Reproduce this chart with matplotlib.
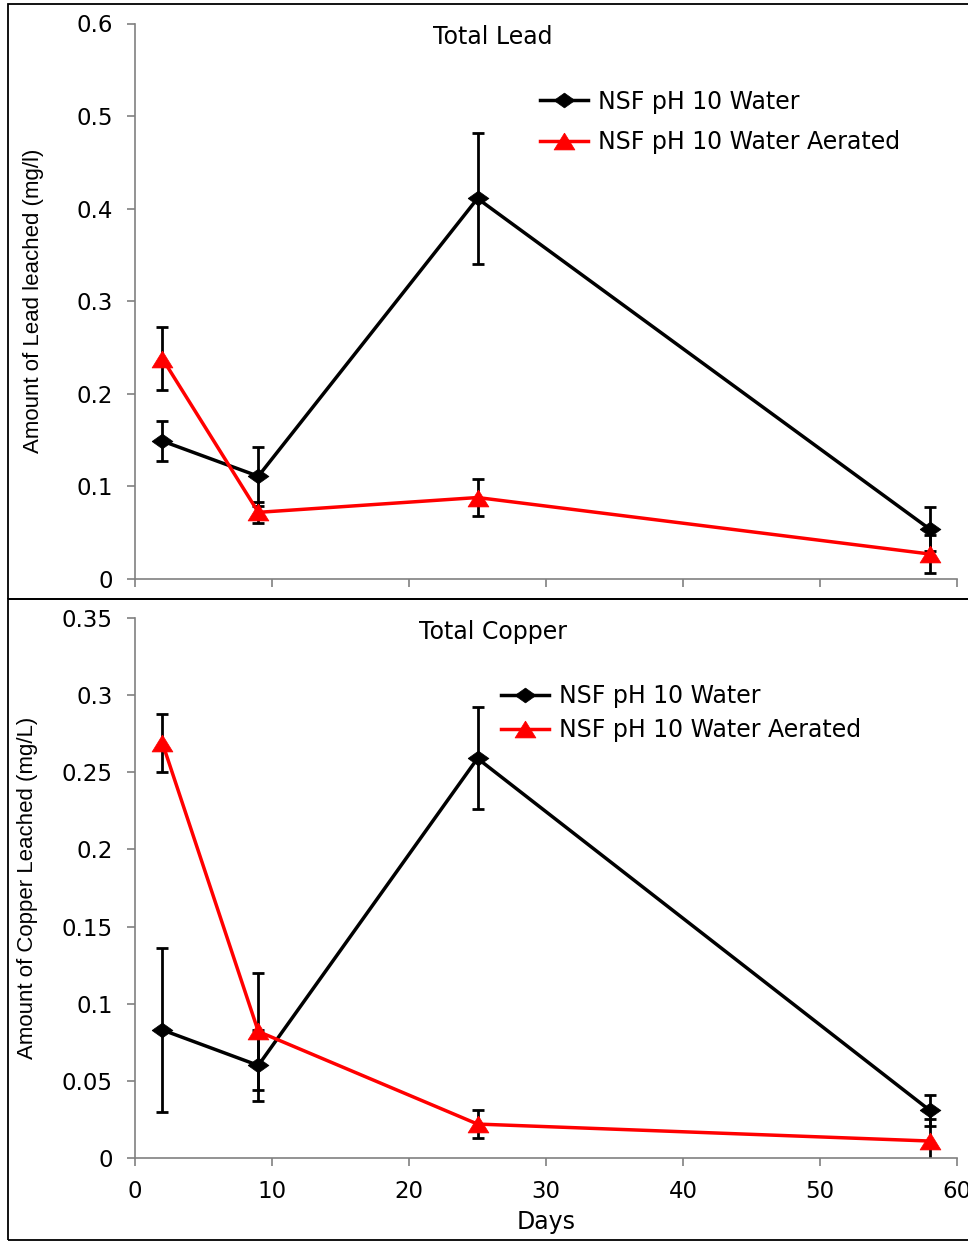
import matplotlib
matplotlib.use("Agg")
import matplotlib.pyplot as plt
from matplotlib.patches import Rectangle

plt.rcParams['font.family'] = ['DejaVu Sans']

days = [2, 9, 25, 58]
series_labels = ["NSF pH 10 Water", "NSF pH 10 Water Aerated"]

lead_water = [0.149, 0.111, 0.411, 0.054]
lead_water_err = [0.022, 0.032, 0.071, 0.024]
lead_aerated = [0.238, 0.072, 0.088, 0.027]
lead_aerated_err = [0.034, 0.011, 0.020, 0.021]

copper_water = [0.083, 0.060, 0.259, 0.031]
copper_water_err = [0.053, 0.023, 0.033, 0.010]
copper_aerated = [0.269, 0.082, 0.022, 0.011]
copper_aerated_err = [0.019, 0.038, 0.009, 0.014]

x_ticks = [0, 10, 20, 30, 40, 50, 60]
lead_yticks = [0, 0.1, 0.2, 0.3, 0.4, 0.5, 0.6]
lead_yticklabels = ["0", "0.1", "0.2", "0.3", "0.4", "0.5", "0.6"]
copper_yticks = [0, 0.05, 0.1, 0.15, 0.2, 0.25, 0.3, 0.35]
copper_yticklabels = ["0", "0.05", "0.1", "0.15", "0.2", "0.25", "0.3", "0.35"]

W, H = 968, 1242
fig = plt.figure(figsize=(W / 100, H / 100), dpi=100)

# panel frames
fig.add_artist(Rectangle((8 / W, 1 - 599 / H), 1.0, (599 - 4) / H, transform=fig.transFigure,
                         fill=False, edgecolor='black', linewidth=1.3))
fig.add_artist(Rectangle((8 / W, 1 - 1240 / H), 1.0, (1240 - 599) / H, transform=fig.transFigure,
                         fill=False, edgecolor='black', linewidth=1.3))

ax1 = fig.add_axes([135 / W, 1 - 579 / H, 822 / W, (579 - 23.5) / H])
ax2 = fig.add_axes([135 / W, 1 - 1158 / H, 822 / W, (1158 - 618) / H])

spine_color = '#808080'
diamond = [(-1, 0), (0, 0.71), (1, 0), (0, -0.71), (-1, 0)]
triangle = [(0, 0.81), (1, -0.81), (-1, -0.81), (0, 0.81)]
TXT = 17


def draw(ax, yw, ew, ya, ea, ylim, yticks, yticklabels, title, ylabel, ylabel_x,
         leg_anchor, leg_spacing, show_xlabels):
    ax.errorbar(days, yw, yerr=ew, fmt='none', ecolor='black', elinewidth=2, capsize=4.6, capthick=2, zorder=2)
    ax.errorbar(days, ya, yerr=ea, fmt='none', ecolor='black', elinewidth=2, capsize=4.6, capthick=2, zorder=2)
    ax.plot(days, yw, color='black', linewidth=2.5, marker=diamond, markersize=15,
            markerfacecolor='black', markeredgecolor='black', markeredgewidth=0.5,
            label=series_labels[0], zorder=3)
    ax.plot(days, ya, color='#ff0000', linewidth=2.5, marker=triangle, markersize=15,
            markerfacecolor='#ff0000', markeredgecolor='#ff0000', markeredgewidth=0.5,
            label=series_labels[1], zorder=4)
    ax.set_xlim(0, 60)
    ax.set_ylim(*ylim)
    ax.set_xticks(x_ticks)
    ax.set_yticks(yticks)
    ax.set_yticklabels(yticklabels)
    if not show_xlabels:
        ax.set_xticklabels([])
    for s in ['top', 'right']:
        ax.spines[s].set_visible(False)
    for s in ['left', 'bottom']:
        ax.spines[s].set_color(spine_color)
        ax.spines[s].set_linewidth(1.2)
    ax.tick_params(axis='both', direction='out', length=6, width=1.2, color=spine_color,
                   labelsize=16.5)
    ax.tick_params(axis='y', pad=10)
    ax.tick_params(axis='x', pad=10)
    ax.patch.set_alpha(0)
    ax.text(0.435, 0.975, title, transform=ax.transAxes, ha='center', va='center', fontsize=TXT)
    ax.set_ylabel(ylabel, fontsize=16, family=['Liberation Sans', 'DejaVu Sans'])
    ax.yaxis.set_label_coords(ylabel_x, 0.5)
    ax.legend(loc='upper left', bbox_to_anchor=leg_anchor, frameon=False, fontsize=TXT,
              handlelength=2.05, handletextpad=0.4, labelspacing=leg_spacing, borderpad=0,
              borderaxespad=0)


draw(ax1, lead_water, lead_water_err, lead_aerated, lead_aerated_err, (0, 0.6),
     lead_yticks, lead_yticklabels, "Total Lead", "Amount of Lead leached (mg/l)", -0.111,
     (0.4927, 0.881), 0.7, False)
draw(ax2, copper_water, copper_water_err, copper_aerated, copper_aerated_err, (0, 0.35),
     copper_yticks, copper_yticklabels, "Total Copper", "Amount of Copper Leached (mg/L)", -0.118,
     (0.445, 0.877), 0.4, True)
ax2.set_xlabel("Days", fontsize=TXT, labelpad=5)

fig.savefig("out.png", dpi=100)
